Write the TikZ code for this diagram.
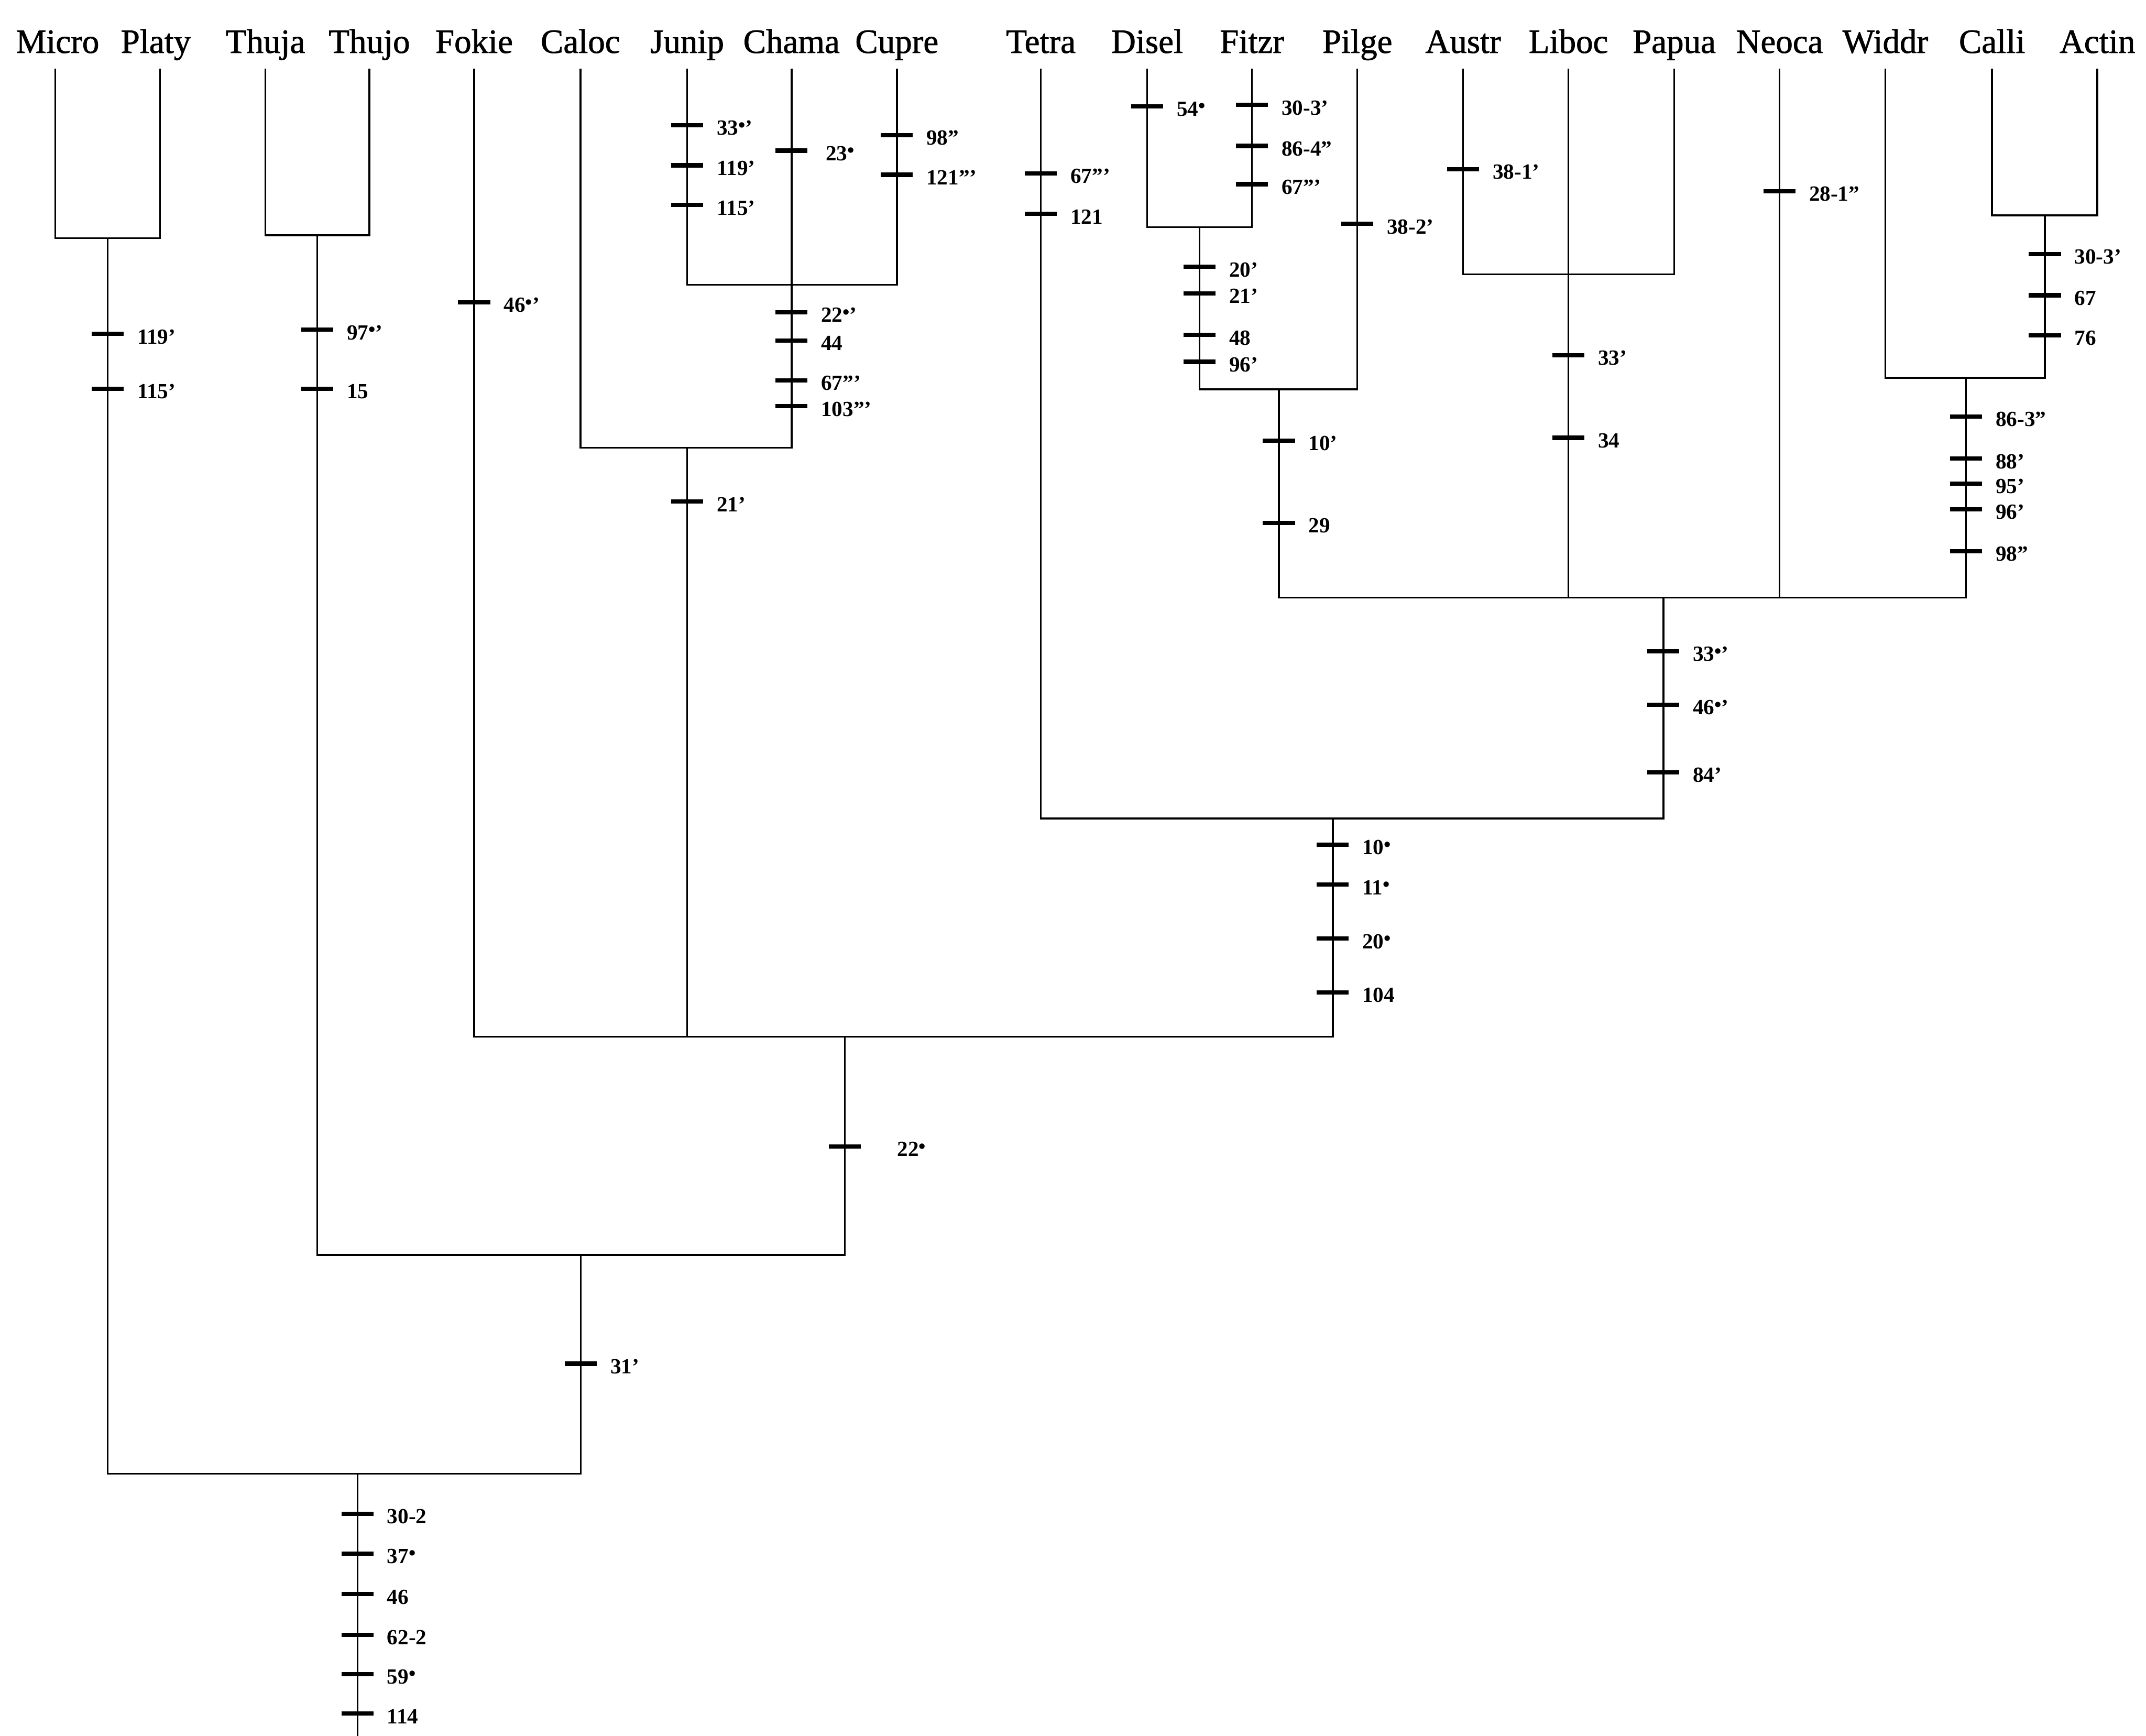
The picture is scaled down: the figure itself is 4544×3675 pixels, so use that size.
\documentclass[tikz,border=0pt]{standalone}
\usepackage{fontspec}
\setmainfont{Liberation Serif}
\newfontfamily\taxfont[FakeBold=1.2]{Liberation Serif}
\newcommand\mystr{\raisebox{0.35ex}{\fontsize{12}{12}\selectfont\textbullet}}
\tikzset{
  tree/.style={line width=1.1pt, line join=miter},
  tickln/.style={line width=2.6pt},
  lab/.style={anchor=west, inner sep=0pt, font=\bfseries\fontsize{13}{13}\selectfont},
  taxon/.style={anchor=base, inner sep=0pt, font=\taxfont\fontsize{20.5}{20.5}\selectfont},
}
\newcommand\tk[4][62]{%
  \draw[tickln] ({#2-34},#3) -- ({#2+34},#3);
  \node[lab] (L#2x#3) at ({#2+#1},{#3+6}) {#4};}
\begin{document}
\begin{tikzpicture}[x=0.01cm, y=-0.01cm]
\useasboundingbox (0,0) rectangle (4544,3675);
% taxon labels
\foreach \n/\x in {Micro/122, Platy/330, Thuja/562, Thujo/782, Fokie/1004, Caloc/1229,
  Junip/1455, Chama/1676, Cupre/1899, Tetra/2204, Disel/2429, Fitzr/2651, Pilge/2874,
  Austr/3098, Liboc/3321, Papua/3545, Neoca/3768, Widdr/3992, Calli/4218, Actin/4441}{
  \node[taxon] (\n) at (\x,112) {\n};
}
% tip tops
\foreach \n/\x in {Micro/117, Platy/339, Thuja/562, Thujo/782, Fokie/1004, Caloc/1229,
  Junip/1455, Chama/1676, Cupre/1899, Tetra/2204, Disel/2429, Fitzr/2651, Pilge/2874,
  Austr/3098, Liboc/3321, Papua/3545, Neoca/3768, Widdr/3992, Calli/4218, Actin/4441}{
  \coordinate (\n T) at (\x,145);
}
% junctions
\coordinate (jMP) at (228,504);
\coordinate (jTT) at (672,498);
\coordinate (jJC) at (1676,603);
\coordinate (jC) at (1455,948);
\coordinate (jDF) at (2540,481);
\coordinate (jP) at (2708,824);
\coordinate (jAP) at (3321,581);
\coordinate (jCA) at (4330,456);
\coordinate (jW) at (4163,800);
\coordinate (jB) at (3522,1265);
\coordinate (jT) at (2822,1733);
\coordinate (jF) at (1789,2195);
\coordinate (jTh) at (1230,2657);
\coordinate (jR) at (757,3120);
\coordinate (rootEnd) at (757,3675);

% tree
\draw[tree] (MicroT) |- (jMP) -| (PlatyT);
\draw[tree] (ThujaT) |- (jTT) -| (ThujoT);
\draw[tree] (JunipT) |- (jJC) -| (CupreT);
\draw[tree] (ChamaT) -- (jJC);
\draw[tree] (CalocT) |- (jC) -| (jJC);
\draw[tree] (DiselT) |- (jDF) -| (FitzrT);
\draw[tree] (jDF) |- (jP) -| (PilgeT);
\draw[tree] (AustrT) |- (jAP) -| (PapuaT);
\draw[tree] (CalliT) |- (jCA) -| (ActinT);
\draw[tree] (WiddrT) |- (jW) -| (jCA);
\draw[tree] (jP) |- (jB) -| (jW);
\draw[tree] (LibocT) -- (LibocT |- jB);
\draw[tree] (NeocaT) -- (NeocaT |- jB);
\draw[tree] (TetraT) |- (jT) -| (jB);
\draw[tree] (FokieT) |- (jF) -| (jT);
\draw[tree] (jC) -- (jC |- jF);
\draw[tree] (jTT) |- (jTh) -| (jF);
\draw[tree] (jMP) |- (jR) -| (jTh);
\draw[tree] (jR) -- (rootEnd);

% character ticks
\tk{228}{707}{119'}
\tk{228}{823}{115'}
\tk{672}{698}{97\mystr'}
\tk{672}{823}{15}
\tk{1004}{640}{46\mystr'}
\tk{1455}{265}{33\mystr'}
\tk{1455}{350}{119'}
\tk{1455}{434}{115'}
\tk[72]{1676}{319}{23\mystr}
\tk{1899}{286}{98''}
\tk{1899}{370}{121'''}
\tk{1676}{661}{22\mystr'}
\tk{1676}{721}{44}
\tk{1676}{805}{67'''}
\tk{1676}{860}{103'''}
\tk{1455}{1062}{21'}
\tk{2204}{367}{67'''}
\tk{2204}{453}{121}
\tk{2429}{225}{54\mystr}
\tk{2651}{222}{30-3'}
\tk{2651}{309}{86-4''}
\tk{2651}{390}{67'''}
\tk{2540}{565}{20'}
\tk{2540}{621}{21'}
\tk{2540}{709}{48}
\tk{2540}{766}{96'}
\tk{2874}{474}{38-2'}
\tk{2708}{933}{10'}
\tk{2708}{1107}{29}
\tk{3098}{358}{38-1'}
\tk{3321}{752}{33'}
\tk{3321}{927}{34}
\tk{3768}{405}{28-1''}
\tk{4330}{538}{30-3'}
\tk{4330}{625}{67}
\tk{4330}{710}{76}
\tk{4163}{882}{86-3''}
\tk{4163}{971}{88'}
\tk{4163}{1024}{95'}
\tk{4163}{1078}{96'}
\tk{4163}{1167}{98''}
\tk{3522}{1379}{33\mystr'}
\tk{3522}{1492}{46\mystr'}
\tk{3522}{1635}{84'}
\tk{2822}{1788}{10\mystr}
\tk{2822}{1873}{11\mystr}
\tk{2822}{1987}{20\mystr}
\tk{2822}{2101}{104}
\tk[110]{1789}{2427}{22\mystr}
\tk{1230}{2887}{31'}
\tk{757}{3205}{30-2}
\tk{757}{3289}{37\mystr}
\tk{757}{3375}{46}
\tk{757}{3461}{62-2}
\tk{757}{3544}{59\mystr}
\tk{757}{3628}{114}
\end{tikzpicture}
\end{document}
